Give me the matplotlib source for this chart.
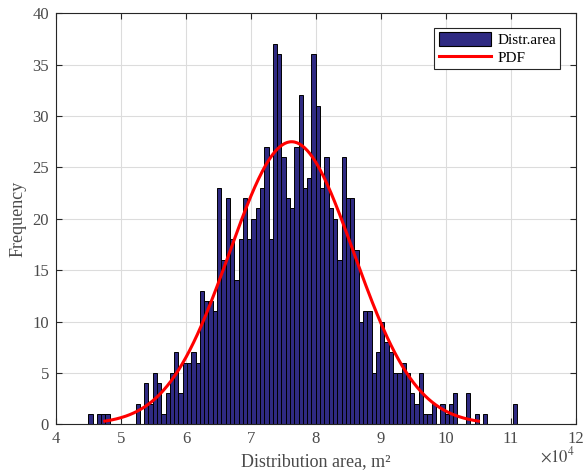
import numpy as np
import matplotlib
matplotlib.use("Agg")
import matplotlib.pyplot as plt
from matplotlib.lines import Line2D
from matplotlib.patches import Patch

plt.rcParams['font.family'] = ['Liberation Serif', 'DejaVu Serif']
plt.rcParams['mathtext.fontset'] = 'stix'

# histogram: 100 bins, 1000 samples
x_min = 4.497e4
x_max = 11.10e4
counts = [1, 0, 1, 1, 1, 0, 0, 0, 0, 0,
          0, 2, 0, 4, 2, 5, 4, 1, 3, 5,
          7, 3, 6, 6, 7, 6, 13, 12, 12, 11,
          23, 16, 22, 18, 14, 18, 22, 18, 20, 21,
          23, 27, 18, 37, 36, 26, 22, 21, 27, 32,
          23, 24, 36, 31, 23, 26, 21, 20, 16, 26,
          22, 22, 17, 10, 11, 11, 5, 7, 10, 8,
          7, 5, 5, 6, 5, 3, 2, 5, 1, 1,
          2, 0, 2, 1, 2, 3, 0, 0, 3, 0,
          1, 0, 1, 0, 0, 0, 0, 0, 0, 2]

# fitted normal curve
mu = 7.625e4
sigma = 0.958e4

counts = np.array(counts)
edges = np.linspace(x_min, x_max, len(counts) + 1)
width = edges[1] - edges[0]

fig = plt.figure(figsize=(5.84, 4.74), dpi=100)
ax = fig.add_axes([0.0959, 0.1049, 0.8904, 0.8671])

bar_color = '#2f2a82'
ax.bar(edges[:-1], counts, width=width, align='edge', color=bar_color,
       edgecolor='black', linewidth=0.7, zorder=2)

xs = np.linspace(mu - 3 * sigma, mu + 3 * sigma, 300)
pdf = counts.sum() * width / (sigma * np.sqrt(2 * np.pi)) * np.exp(-0.5 * ((xs - mu) / sigma) ** 2)
ax.plot(xs, pdf, color='red', linewidth=2.2, zorder=3)

ax.set_xlim(4e4, 12e4)
ax.set_ylim(0, 40)
xt = np.arange(4, 13)
ax.set_xticks(xt * 1e4)
ax.set_xticklabels([str(v) for v in xt])
ax.set_yticks(np.arange(0, 41, 5))

ax.grid(True, color='#dcdcdc', linewidth=0.8, zorder=0)
ax.set_axisbelow(True)
ax.tick_params(direction='in', top=True, right=True, length=4, pad=5,
               labelsize=12, colors='#262626', labelcolor='#4a4a4a')
for s in ax.spines.values():
    s.set_color('#262626')
    s.set_linewidth(0.8)

fig.text(0.985, 0.018, r'$\times10^{4}$', ha='right', va='bottom',
         fontsize=12, color='#4a4a4a')

ax.set_xlabel('Distribution area, m²', fontsize=13, color='#4a4a4a', labelpad=4)
ax.set_ylabel('Frequency', fontsize=13, color='#4a4a4a', labelpad=4)

handles = [Patch(facecolor=bar_color, edgecolor='black', linewidth=0.8),
           Line2D([0], [0], color='red', linewidth=2.2)]
leg = ax.legend(handles, ['Distr.area', 'PDF'], loc='upper right',
                bbox_to_anchor=(0.97, 0.965), fontsize=11, fancybox=False,
                edgecolor='#262626', framealpha=1, borderpad=0.3,
                handlelength=3.4, handleheight=1.0, handletextpad=0.4,
                labelspacing=0.15, borderaxespad=0.0)
leg.get_frame().set_linewidth(0.8)

fig.savefig('out.png', dpi=100)
